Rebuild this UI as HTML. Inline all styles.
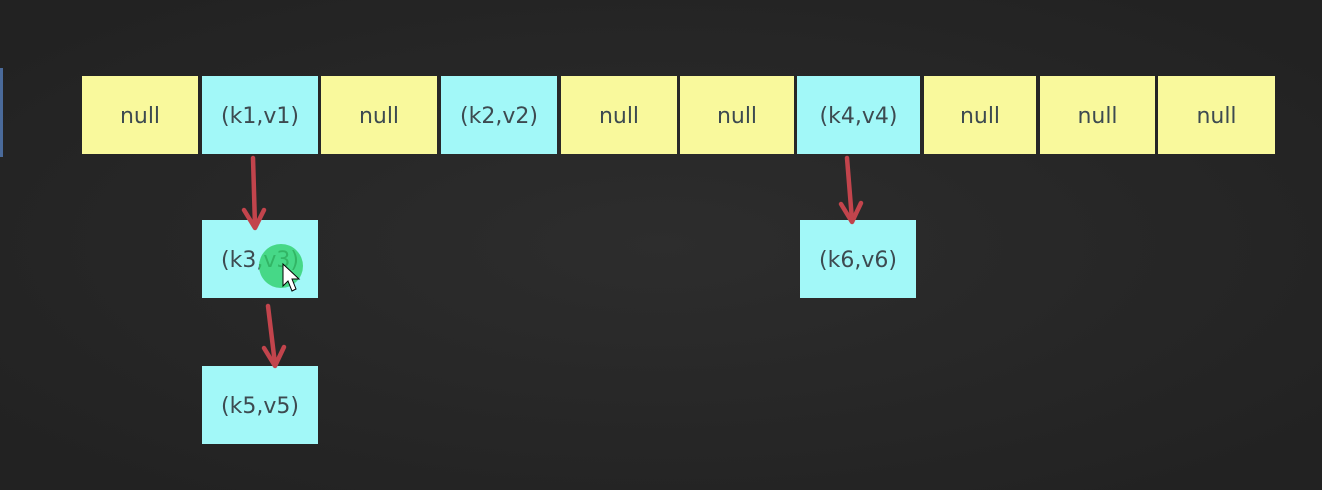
<!DOCTYPE html>
<html><head><meta charset="utf-8"><style>
body{margin:0;width:1322px;height:490px;overflow:hidden;background:#282828;font-family:"DejaVu Sans","Liberation Sans",sans-serif}
#bg{position:absolute;left:0;top:0;width:1322px;height:490px;background:radial-gradient(ellipse at 50% 50%,#2d2d2d,#222 90%)}
.c{position:absolute;display:flex;align-items:center;justify-content:center;font-size:22px;color:#3d4a50;box-sizing:border-box;padding-top:3px}
.y{background:#f9f99c}.b{background:#a2f8f8}
</style></head><body>
<div id="bg"></div>
<div style="position:absolute;left:0;top:68px;width:3px;height:89px;background:#4a6a9a"></div>
<div id="row"></div>
<svg width="1322" height="490" style="position:absolute;left:0;top:0">
<g stroke="#c2444c" stroke-width="4.5" fill="none" stroke-linecap="round" stroke-linejoin="round">
<path d="M253 158 L255 226"/><path d="M244 210 L255 228 L264 210"/>
<path d="M268 306 L275 364"/><path d="M264 348 L275 366 L284 347"/>
<path d="M847 158 L852 220"/><path d="M841 204 L852 222 L861 203"/>
</g>
<circle cx="281" cy="266" r="22" fill="#2fcf6a" opacity="0.8"/>
<path d="M283 264 L283 286 L288 281 L292 291 L296 289 L292 279 L299 279 Z" fill="#fff" stroke="#000" stroke-width="1"/>
</svg>
<script>
const labels=["null","(k1,v1)","null","(k2,v2)","null","null","(k4,v4)","null","null","null"];
const lefts=[82,202,321,441,561,680,797,924,1040,1158];
const rights=[198,318,437,557,677,794,920,1036,1155,1275];
const row=document.getElementById('row');
labels.forEach((t,i)=>{const d=document.createElement('div');
d.className='c '+(t==='null'?'y':'b');
d.style.left=lefts[i]+'px';d.style.top='76px';d.style.width=(rights[i]-lefts[i])+'px';d.style.height='78px';d.textContent=t;


row.appendChild(d);});
const chain=[["(k3,v3)",202,220],["(k5,v5)",202,366],["(k6,v6)",800,220]];
chain.forEach(c=>{const d=document.createElement('div');d.className='c b';
d.style.left=c[1]+'px';d.style.top=c[2]+'px';d.style.width='116px';d.style.height='78px';d.textContent=c[0];


document.body.insertBefore(d,document.querySelector('svg'));});
</script>
</body></html>
